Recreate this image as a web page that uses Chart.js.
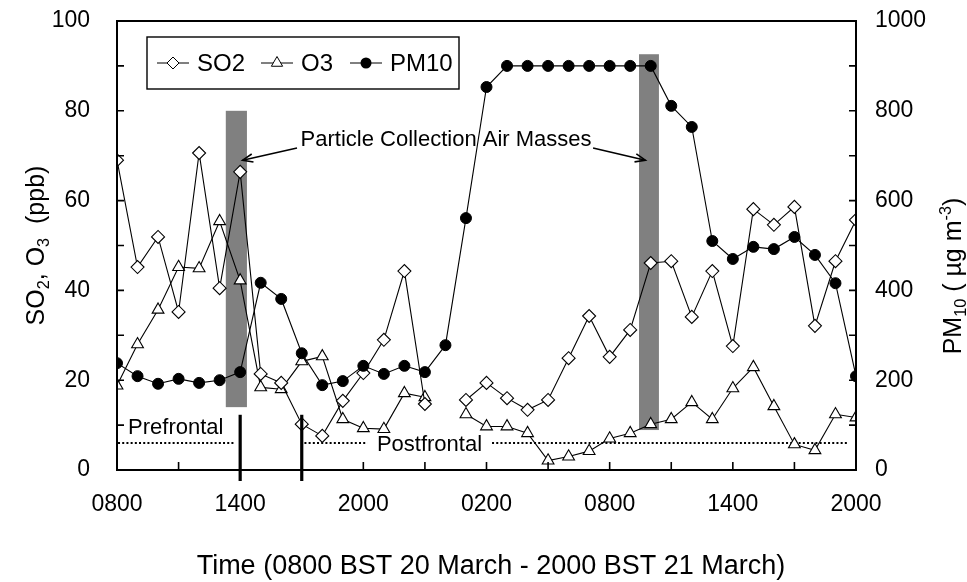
<!DOCTYPE html>
<html><head><meta charset="utf-8">
<script src="https://cdn.jsdelivr.net/npm/chart.js@4.4.0/dist/chart.umd.min.js"></script>
<style>html,body{margin:0;padding:0;background:#fff}#wrap{width:967px;height:582px;position:relative}</style>
</head><body><div id="wrap"><canvas id="c"></canvas></div>
<script>
// ---- data (hours since 0800 BST 20 March) ----
const hours = [0,1,2,3,4,5,6,7,8,9,10,11,12,13,14,15,16,17,18,19,20,21,22,23,24,25,26,27,28,29,30,31,32,33,34,35,36];
const xTickLabels = ['0800','1400','2000','0200','0800','1400','2000'];
const so2 = [69.0,45.2,51.9,35.2,70.6,40.5,66.4,21.4,19.4,10.2,7.6,15.4,21.6,29.0,44.3,14.7,null,15.6,19.4,16.0,13.4,15.6,24.9,34.3,25.2,31.2,46.1,46.5,34.1,44.3,27.6,58.1,54.6,58.6,32.1,46.5,55.7];
const o3 = [18.8,28.0,35.7,45.2,44.9,55.4,42.2,18.4,18.0,24.2,25.3,11.3,9.3,9.1,17.1,16.2,null,12.4,9.7,9.7,8.2,2.1,3.0,4.2,7.0,8.2,10.2,11.3,15.1,11.3,18.2,22.9,14.2,5.7,4.4,12.4,11.7];
const pm10 = [238,209,192,203,194,200,218,417,381,260,189,198,232,214,232,218,278,561,853,900,900,900,900,900,900,900,900,811,764,510,470,497,492,519,479,416,209];
// annotations (data units)
const collectionBarsX = [[5.3,6.33],[25.43,26.4]];
const collectionBarsY = [[14,80],[8.9,92.6]];
const frontHours = [6, 9];
const frontalLevel = 6;
const frontalSegments = [[0.05,5.72],[9.13,12.2],[18.27,35.65]];

const FONT = '"Liberation Sans", Arial, Helvetica, sans-serif';
const toXY = arr => hours.map((h,i)=>({x:h,y:arr[i]}));

function richText(ctx, parts, cx, cy, size, angle){
  ctx.save();
  ctx.translate(cx, cy);
  if (angle) ctx.rotate(angle);
  let w = 0;
  const sz = p => p.s ? size*0.65 : size;
  parts.forEach(p=>{ ctx.font = sz(p)+'px '+FONT; p.w = ctx.measureText(p.t).width; w += p.w; });
  let x = -w/2;
  ctx.fillStyle = '#000';
  ctx.textBaseline = 'alphabetic';
  ctx.textAlign = 'left';
  const base = size*0.36;
  parts.forEach(p=>{
    ctx.font = sz(p)+'px '+FONT;
    let dy = 0;
    if (p.s === 'sub') dy = size*0.2;
    if (p.s === 'sup') dy = -size*0.42;
    ctx.fillText(p.t, x, base+dy);
    x += p.w;
  });
  ctx.restore();
}

function arrow(ctx, x1, y1, x2, y2){
  ctx.beginPath(); ctx.moveTo(x1,y1); ctx.lineTo(x2,y2); ctx.stroke();
  const a = Math.atan2(y2-y1, x2-x1), L = 11, s = 0.38;
  ctx.beginPath();
  ctx.moveTo(x2 - L*Math.cos(a-s), y2 - L*Math.sin(a-s));
  ctx.lineTo(x2, y2);
  ctx.lineTo(x2 - L*Math.cos(a+s), y2 - L*Math.sin(a+s));
  ctx.stroke();
}

const annot = {
  id: 'annot',
  beforeDatasetsDraw(chart){
    const {ctx, scales:{x, y}} = chart;
    ctx.save();
    ctx.fillStyle = '#808080';
    collectionBarsX.forEach((bx,i)=>{
      const by = collectionBarsY[i];
      const l = x.getPixelForValue(bx[0]), r = x.getPixelForValue(bx[1]);
      const t = y.getPixelForValue(by[1]), b = y.getPixelForValue(by[0]);
      ctx.fillRect(l, t, r-l, b-t);
    });
    ctx.strokeStyle = '#000';
    ctx.lineWidth = 2;
    ctx.setLineDash([2,2.2]);
    const yy = y.getPixelForValue(frontalLevel);
    frontalSegments.forEach(s=>{
      ctx.beginPath();
      ctx.moveTo(x.getPixelForValue(s[0]), yy);
      ctx.lineTo(x.getPixelForValue(s[1]), yy);
      ctx.stroke();
    });
    ctx.restore();
  },
  afterDatasetsDraw(chart){
    const {ctx, chartArea:ca, scales:{x, y, y1}} = chart;
    ctx.save();
    // frame
    ctx.strokeStyle = '#000';
    ctx.lineWidth = 2;
    ctx.strokeRect(ca.left, ca.top, ca.right-ca.left, ca.bottom-ca.top);
    // inward ticks
    ctx.lineWidth = 1.6;
    ctx.beginPath();
    for (let v=10; v<100; v+=10){ const p=y.getPixelForValue(v); ctx.moveTo(ca.left,p); ctx.lineTo(ca.left+7,p); }
    for (let v=100; v<1000; v+=100){ const p=y1.getPixelForValue(v); ctx.moveTo(ca.right,p); ctx.lineTo(ca.right-7,p); }
    for (let v=3; v<36; v+=3){ const p=x.getPixelForValue(v); ctx.moveTo(p,ca.bottom); ctx.lineTo(p,ca.bottom-8); }
    ctx.stroke();
    // front lines
    ctx.lineWidth = 3.2;
    frontHours.forEach(h=>{
      const p = x.getPixelForValue(h);
      ctx.beginPath(); ctx.moveTo(p, y.getPixelForValue(12.3)); ctx.lineTo(p, ca.bottom+11); ctx.stroke();
    });
    // arrows + labels
    ctx.lineWidth = 1.6;
    arrow(ctx, x.getPixelForValue(8.77), y.getPixelForValue(71.7), x.getPixelForValue(6.12), y.getPixelForValue(69.0));
    arrow(ctx, x.getPixelForValue(23.19), y.getPixelForValue(71.7), x.getPixelForValue(25.74), y.getPixelForValue(69.0));
    ctx.fillStyle = '#000';
    ctx.font = '22px '+FONT;
    ctx.textBaseline = 'middle';
    ctx.textAlign = 'center';
    ctx.fillText('Particle Collection Air Masses', x.getPixelForValue(16.03), y.getPixelForValue(73.4));
    ctx.textAlign = 'left';
    ctx.fillText('Prefrontal', x.getPixelForValue(0.54), y.getPixelForValue(9.4));
    ctx.fillText('Postfrontal', x.getPixelForValue(12.66), y.getPixelForValue(5.5));
    // legend
    const lx = ca.left + 30, ly = ca.top + 16;
    ctx.lineWidth = 1.4;
    ctx.strokeRect(lx, ly, 312, 52);
    const cy = ly + 26;
    ctx.font = '24px '+FONT;
    ctx.lineWidth = 1;
    const items = [
      {label:'SO2', x:lx+10, style:'diamond'},
      {label:'O3', x:lx+114, style:'tri'},
      {label:'PM10', x:lx+203, style:'dot'}
    ];
    items.forEach(it=>{
      ctx.beginPath(); ctx.moveTo(it.x, cy); ctx.lineTo(it.x+32, cy); ctx.stroke();
      const mx = it.x+16;
      ctx.beginPath();
      if (it.style==='diamond'){ ctx.moveTo(mx,cy-6); ctx.lineTo(mx+6,cy); ctx.lineTo(mx,cy+6); ctx.lineTo(mx-6,cy); ctx.closePath(); ctx.fillStyle='#fff'; ctx.fill(); ctx.stroke(); }
      else if (it.style==='tri'){ const r=6.5; ctx.moveTo(mx,cy-r); ctx.lineTo(mx+r*0.866,cy+r/2); ctx.lineTo(mx-r*0.866,cy+r/2); ctx.closePath(); ctx.fillStyle='#fff'; ctx.fill(); ctx.stroke(); }
      else { ctx.arc(mx,cy,5.5,0,Math.PI*2); ctx.fillStyle='#000'; ctx.fill(); }
      ctx.fillStyle = '#000';
      ctx.fillText(it.label, it.x+40, cy+1);
    });
    // axis titles
    richText(ctx, [{t:'SO'},{t:'2',s:'sub'},{t:', O'},{t:'3',s:'sub'},{t:'  (ppb)'}], 35, (ca.top+ca.bottom)/2, 25, -Math.PI/2);
    richText(ctx, [{t:'PM'},{t:'10',s:'sub'},{t:' ( µg m'},{t:'-3',s:'sup'},{t:')'}], 952, 276, 25, -Math.PI/2);
    richText(ctx, [{t:'Time (0800 BST 20 March - 2000 BST 21 March)'}], 491, 564, 27, 0);
    ctx.restore();
  }
};

const tickFont = {family: FONT, size: 23};
const fixV = w => s => { s.width = w; s.paddingTop = 8; s.paddingBottom = 8; };
new Chart(document.getElementById('c'), {
  type: 'line',
  data: {
    datasets: [
      {label:'PM10', data: toXY(pm10), yAxisID:'y1', borderColor:'#000', borderWidth:1.1, pointStyle:'circle', pointRadius:5.5, pointBackgroundColor:'#000', pointBorderColor:'#000', pointBorderWidth:1, tension:0, spanGaps:false},
      {label:'SO2', data: toXY(so2), yAxisID:'y', borderColor:'#000', borderWidth:1.1, pointStyle:'rectRot', pointRadius:6.5, pointBackgroundColor:'#fff', pointBorderColor:'#000', pointBorderWidth:1.1, tension:0, spanGaps:false},
      {label:'O3', data: toXY(o3), yAxisID:'y', borderColor:'#000', borderWidth:1.1, pointStyle:'triangle', pointRadius:6.8, pointBackgroundColor:'#fff', pointBorderColor:'#000', pointBorderWidth:1.1, tension:0, spanGaps:false}
    ]
  },
  options: {
    responsive: true,
    maintainAspectRatio: false,
    animation: false,
    layout: {padding: {top: 21, left: 0, right: 0, bottom: 0}},
    plugins: {legend: {display:false}, tooltip: {enabled:false}},
    scales: {
      x: {type:'linear', min:0, max:36, position:'bottom',
          grid:{display:false, drawTicks:false}, border:{display:false},
          ticks:{stepSize:6, autoSkip:false, maxRotation:0, padding:21, color:'#000', font:tickFont,
                 callback: v => xTickLabels[v/6] ?? ''},
          afterFit: s => { s.height = 112; }},
      y: {min:0, max:100, position:'left',
          grid:{display:false, drawTicks:false}, border:{display:false},
          ticks:{stepSize:20, padding:27, color:'#000', font:tickFont, callback: v => String(v)},
          afterFit: fixV(117)},
      y1: {min:0, max:1000, position:'right',
          grid:{display:false, drawTicks:false}, border:{display:false},
          ticks:{stepSize:200, padding:19, color:'#000', font:tickFont, callback: v => String(v)},
          afterFit: fixV(111)}
    }
  },
  plugins: [annot]
});
</script>
</body></html>
